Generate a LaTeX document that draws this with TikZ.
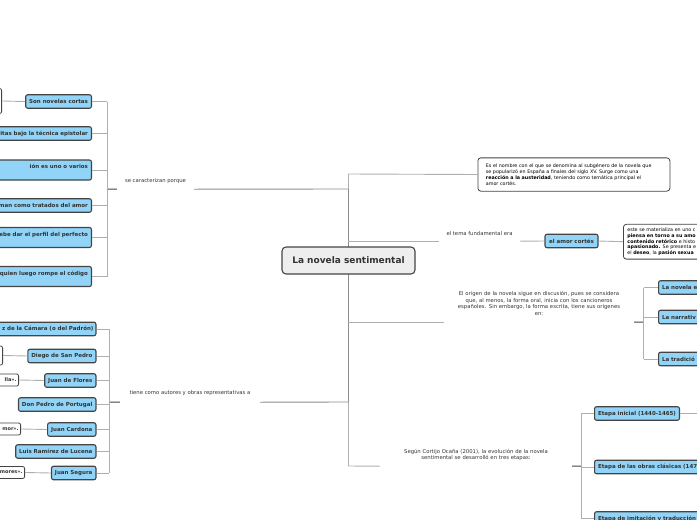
\documentclass[tikz,border=0pt]{standalone}
\usepackage{fontspec}
\setmainfont{DejaVu Sans}
\usetikzlibrary{calc}
\definecolor{topicblue}{RGB}{145,212,247}
\definecolor{edgedark}{RGB}{68,68,68}
\definecolor{linegray}{RGB}{175,175,175}
\definecolor{linemid}{RGB}{140,140,140}
\definecolor{txtdark}{RGB}{51,51,51}
\definecolor{rootfill}{RGB}{238,238,238}
\begin{document}
\begin{tikzpicture}[x=1pt,y=-1pt,
 topicbox/.style={draw=edgedark, fill=topicblue, line width=1.1pt, rounded corners=2pt, font=\fontsize{5.5}{6.5}\selectfont\bfseries, text=txtdark, inner xsep=3.5pt, inner ysep=2pt, minimum height=13.5pt},
 notebox/.style={draw=edgedark, fill=white, line width=0.8pt, rounded corners=3pt, font=\fontsize{4.8}{5.8}\selectfont, text=black, align=left},
 tagbox/.style={draw=edgedark, fill=white, line width=0.8pt, rounded corners=2pt, font=\fontsize{5}{6}\selectfont\bfseries, text=txtdark, inner xsep=2pt, inner ysep=2pt, minimum height=12pt},
 lab/.style={font=\fontsize{5.3}{6.7}\selectfont, text=txtdark, inner xsep=4pt, inner ysep=0pt, align=center},
 conn/.style={draw=linegray, line width=0.9pt},
 connmid/.style={draw=linemid, line width=0.9pt},
 stub/.style={draw=edgedark, line width=1pt},
 rootbox/.style={draw=edgedark, fill=rootfill, line width=1.1pt, rounded corners=4pt, font=\fontsize{9}{11}\selectfont\bfseries, text=txtdark, minimum width=133pt, minimum height=27pt}]

\useasboundingbox (0,0) rectangle (697,520);
\clip (0,0) rectangle (697,520);

% trunk
\coordinate (rTop) at (348,174);
\coordinate (rBot) at (348,466);
\coordinate (lTop) at (348,189);
\coordinate (lBot) at (348,402);
\draw[conn] (rTop) -- (rBot);
\draw[connmid] (lTop) -- (lBot);
\node[rootbox] (root) at (348.5,260.5) {La novela sentimental};

% ---------- right: definition
\node[notebox, anchor=west, text width=176pt, inner xsep=8pt, inner ysep=6pt] (def) at (477.5,174.5)
 {Es el nombre con el que se denomina al subgénero de la novela que\\
  se popularizó en España a finales del siglo XV. Surge como una\\
  \textbf{reacción a la austeridad}, teniendo como temática principal el\\
  amor cortés.};
\draw[conn] (rTop) -- (def.west);

% ---------- right: tema
\node[lab, minimum width=81pt, minimum height=14pt] (tema) at (479.5,234) {el tema fundamental era};
\draw[conn] (rTop |- tema.south) -- (tema.south west);
\node[topicbox, minimum width=53pt] (amor) at (571.5,241) {el amor cortés};
\draw[conn] (tema.south east) -- (amor.west);
\node[notebox, anchor=west, text width=100pt, inner xsep=4pt, inner ysep=3.5pt] (amornote) at (623,241.7)
 {este se materializa en uno c\\
  \textbf{piensa en torno a su amo}\\
  \textbf{contenido retórico} e histo\\
  \textbf{apasionado.} Se presenta e\\
  el \textbf{deseo}, la \textbf{pasión sexua}};
\draw[conn] (amor.east) -- (amornote.west);

% ---------- right: origen
\node[lab, text width=182pt, minimum height=37pt] (origen) at (539,303.5)
 {El origen de la novela sigue en discusión, pues se considera\\
  que, al menos, la forma oral, inicia con los cancioneros\\
  españoles. Sin embargo, la forma escrita, tiene sus origenes\\
  en:};
\draw[conn] (rTop |- origen.south) -- (origen.south west);
\coordinate (ob) at (643.5,322);
\draw[stub] (origen.south east) -- (ob);
\node[topicbox, anchor=west, text width=60pt, align=left] (nov) at (658,287.5) {La novela e};
\node[topicbox, anchor=west, text width=60pt, align=left] (narr) at (658,317) {La narrativ};
\node[topicbox, anchor=west, text width=60pt, align=left] (trad) at (658,359) {La tradició};
\draw[conn] (ob |- nov.west) -- (ob |- trad.west);
\draw[conn] (ob |- nov.west) -- (nov.west);
\draw[conn] (ob |- narr.west) -- (narr.west);
\draw[conn] (ob |- trad.west) -- (trad.west);

% ---------- right: etapas
\node[lab, text width=184pt, minimum height=22pt] (segun) at (476,455)
 {Según Cortijo Ocaña (2001), la evolución de la novela\\
  sentimental se desarrolló en tres etapas:};
\draw[conn] (rBot) -- (segun.south west);
\coordinate (eb) at (581,466);
\draw[stub] (segun.south east) -- (eb);
\node[topicbox, anchor=west] (e1) at (594,413.5) {Etapa inicial (1440-1465)};
\node[topicbox, anchor=west, text width=120pt, align=left] (e2) at (594,467) {Etapa de las obras clásicas (147};
\node[topicbox, anchor=west, text width=120pt, align=left] (e3) at (594,518.5) {Etapa de imitación y traducción (};
\coordinate (e1out) at (700,413.5);
\draw[conn] (eb |- e1.west) -- (eb |- e3.west);
\draw[conn] (eb |- e1.west) -- (e1.west);
\draw[conn] (eb |- e2.west) -- (e2.west);
\draw[conn] (eb |- e3.west) -- (e3.west);
\draw[conn] (e1.east) -- (e1out);

% ---------- left: caracterizan
\node[lab, minimum width=77pt, minimum height=16pt] (carac) at (155.5,181) {se caracterizan porque};
\draw[connmid] (carac.south east) -- (lTop);
\coordinate (cb) at (107,189);
\draw[stub] (cb) -- (carac.south west);
\node[topicbox, anchor=east] (c1) at (92,101.5) {Son novelas cortas};
\node[topicbox, anchor=east, text width=110pt, align=right] (c2) at (92,133.5) {ritas bajo la técnica epistolar};
\node[topicbox, anchor=east, text width=110pt, align=right, minimum height=20pt, inner ysep=3pt] (c3) at (92,170) {ión es uno o varios\\\mbox{}};
\node[topicbox, anchor=east, text width=110pt, align=right] (c4) at (92,205.5) {man como tratados del amor};
\node[topicbox, anchor=east, text width=110pt, align=right, minimum height=20pt, inner ysep=3pt] (c5) at (92,237.5) {ebe dar el perfil del perfecto\\\mbox{}};
\node[topicbox, anchor=east, text width=110pt, align=right, minimum height=20pt, inner ysep=3pt] (c6) at (92,276.5) {quien luego rompe el código\\\mbox{}};
\node[tagbox, anchor=east, minimum width=20pt, minimum height=25pt] (n1) at (2,101) {};
\draw[conn] (n1.east) -- (c1.west);
\draw[conn] (cb |- c1.east) -- (cb |- c6.east);
\foreach \n in {c1,c2,c3,c4,c5,c6} { \draw[conn] (\n.east) -- (cb |- \n.east); }

% ---------- left: autores
\node[lab, minimum width=140pt, minimum height=18pt] (autores) at (190,393) {tiene como autores y obras representativas a};
\draw[connmid] (autores.south east) -- (lBot);
\coordinate (ab) at (109,402);
\draw[stub] (ab) -- (autores.south west);
\node[topicbox, anchor=east, text width=110pt, align=right, inner xsep=2.5pt] (a1) at (96.5,329) {z de la Cámara (o del Padrón)};
\node[topicbox, anchor=east] (a2) at (96.5,356) {Diego de San Pedro};
\node[topicbox, anchor=east] (a3) at (96.5,380.5) {Juan de Flores};
\node[topicbox, anchor=east] (a4) at (96.5,404.5) {Don Pedro de Portugal};
\node[topicbox, anchor=east] (a5) at (96.5,429.5) {Juan Cardona};
\node[topicbox, anchor=east] (a6) at (96.5,451.5) {Luis Ramírez de Lucena};
\node[topicbox, anchor=east] (a7) at (96.5,473) {Juan Segura};
\node[tagbox, anchor=east, minimum width=20pt, minimum height=19pt] (w2) at (3,355.5) {};
\node[tagbox, anchor=east, text width=30pt, align=right] (w3) at (19,380) {lla».};
\node[tagbox, anchor=east, text width=30pt, align=right] (w5) at (21,429) {mor».};
\node[tagbox, anchor=east, text width=30pt, align=right] (w7) at (25,472.5) {mores».};
\draw[conn] (w2.east) -- (a2.west);
\draw[conn] (w3.east) -- (a3.west);
\draw[conn] (w5.east) -- (a5.west);
\draw[conn] (w7.east) -- (a7.west);
\draw[conn] (ab |- a1.east) -- (ab |- a7.east);
\foreach \n in {a1,a2,a3,a4,a5,a6,a7} { \draw[conn] (\n.east) -- (ab |- \n.east); }
\end{tikzpicture}
\end{document}
